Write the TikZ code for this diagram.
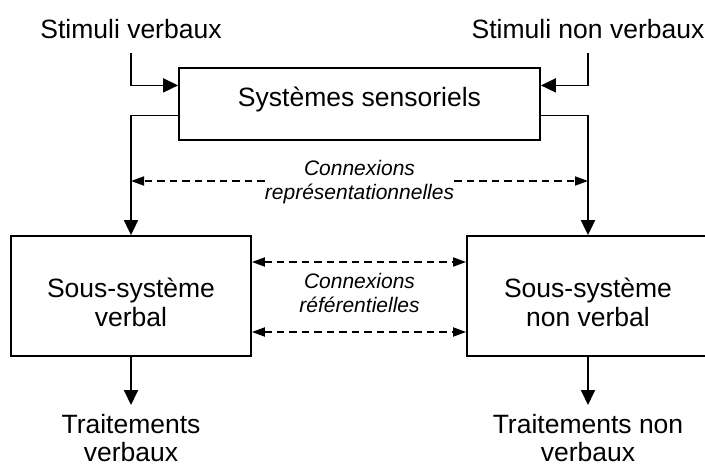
\documentclass[tikz,border=0pt]{standalone}
\usepackage{fontspec}
\setmainfont{Liberation Sans}
\usetikzlibrary{arrows.meta}
\begin{document}
\begin{tikzpicture}[x=1pt,y=-1pt,
  lbl/.style={inner sep=0pt, font=\fontsize{26.5}{29}\selectfont, align=center, text height=20pt, text depth=0pt, anchor=north},
  lbltwo/.style={lbl, text height=49pt, font=\fontsize{26.5}{28.5}\selectfont},
  box/.style={draw, line width=1.8pt, inner sep=0pt, font=\fontsize{26.5}{29}\selectfont, align=center},
  conn/.style={inner sep=0pt, font=\fontsize{21}{24}\selectfont\itshape, align=center},
  arr/.style={line width=1.8pt, -{Triangle[length=15pt,width=14pt]}},
  darr/.style={line width=1.8pt, dash pattern=on 7.5pt off 5pt, {Triangle[length=13pt,width=9pt]}-{Triangle[length=13pt,width=9pt]}},
  darrone/.style={line width=1.8pt, dash pattern=on 7.5pt off 5pt, -{Triangle[length=13pt,width=9pt]}}]
\useasboundingbox (0,0) rectangle (705,466);
\clip (0,0) rectangle (705,466);

% labels
\node[lbl] (sv) at (131,18) {Stimuli verbaux};
\node[lbl] (snv) at (588,18) {Stimuli non verbaux};
\node[lbltwo] (tv) at (131,412.5) {Traitements\\verbaux};
\node[lbltwo] (tnv) at (588,412.5) {Traitements non\\verbaux};

% boxes
\node[box, minimum width=361pt, minimum height=72pt, text height=20pt, text depth=16pt] (ss) at (359.5,104.3) {Systèmes sensoriels};
\node[box, minimum width=240pt, minimum height=120pt, text height=60pt, text depth=0pt] (vb) at (131,296) {Sous-système\\verbal};
\node[box, minimum width=242pt, minimum height=120pt, text height=60pt, text depth=0pt] (vnb) at (588,296) {Sous-système\\non verbal};

% connection labels
\node[conn, text height=40.5pt, text depth=4.5pt] (rep) at (359.5,181) {Connexions\\représentationnelles};
\node[conn, text height=44pt, text depth=0pt] (ref) at (359.5,290.5) {Connexions\\référentielles};

% inputs
\draw[arr, shorten <=15pt] (sv.south) |- ([yshift=-18pt]ss.north west);
\draw[arr, shorten <=15pt] (snv.south) |- ([yshift=-18pt]ss.north east);

% outputs of sensory systems
\draw[arr] ([yshift=-48pt]ss.north west) -| (vb.north);
\draw[arr] ([yshift=-48pt]ss.north east) -| (vnb.north);

% representational connections
\draw[darrone] (rep.west) -- (vb.north |- rep.west);
\draw[darrone] (rep.east) -- (vnb.north |- rep.east);

% referential connections
\draw[darr] ([yshift=34pt]vb.east) -- ([yshift=34pt]vnb.west);
\draw[darr] ([yshift=-36pt]vb.east) -- ([yshift=-36pt]vnb.west);

% outputs
\draw[arr, shorten >=7.5pt] (vb.south) -- (tv.north);
\draw[arr, shorten >=7.5pt] (vnb.south) -- (tnv.north);
\end{tikzpicture}
\end{document}
